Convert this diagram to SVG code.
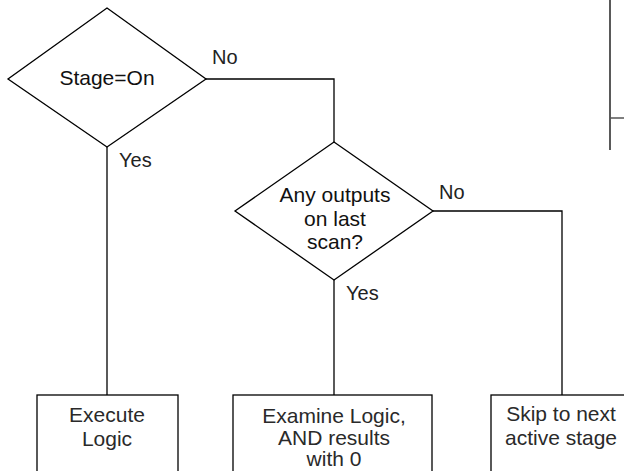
<svg xmlns="http://www.w3.org/2000/svg" width="624" height="471" viewBox="0 0 624 471">
<style>
.shape{fill:#fff;stroke:#000;stroke-width:1.3}
.conn{fill:none;stroke:#000;stroke-width:1.3}
.t{font-family:"Liberation Sans",Arial,sans-serif;font-size:21px;fill:#111;text-anchor:middle}
.bt{fill:#2a2a2a}
.lbl{font-family:"Liberation Sans",Arial,sans-serif;font-size:20px;fill:#222}
</style>
<rect width="624" height="471" fill="#fff"/>
<g id="connectors">
<polyline class="conn" points="206,79 334,79 334,142"/>
<line class="conn" x1="107" y1="147" x2="107" y2="395"/>
<line class="conn" x1="334" y1="280" x2="334" y2="395"/>
<polyline class="conn" points="433,211 562,211 562,395"/>
<line class="conn" x1="610" y1="0" x2="610" y2="150"/>
<line x1="610" y1="118" x2="624" y2="118" stroke="#555" stroke-width="1.5"/>
<text class="lbl" x="212" y="64">No</text>
<text class="lbl" x="119" y="167">Yes</text>
<text class="lbl" x="439" y="199">No</text>
<text class="lbl" x="346" y="300">Yes</text>
</g>
<g id="stage-on">
<polygon class="shape" points="107,8 206,79 107,147 8,79"/>
<text class="t" x="107" y="85">Stage=On</text>
</g>
<g id="any-outputs">
<polygon class="shape" points="334,142 433,211 334,280 235,211"/>
<text class="t" x="335" y="202">Any outputs</text>
<text class="t" x="335" y="226">on last</text>
<text class="t" x="335" y="249">scan?</text>
</g>
<g id="execute-logic">
<rect class="shape" x="37" y="395" width="141" height="90"/>
<text class="t bt" x="107" y="422">Execute</text>
<text class="t bt" x="107" y="446">Logic</text>
</g>
<g id="examine-logic">
<rect class="shape" x="233" y="395" width="199" height="90"/>
<text class="t bt" x="334" y="423">Examine Logic,</text>
<text class="t bt" x="334" y="445">AND results</text>
<text class="t bt" x="334" y="466">with 0</text>
</g>
<g id="skip-stage">
<rect class="shape" x="491" y="395" width="142" height="90"/>
<text class="t bt" x="561" y="421">Skip to next</text>
<text class="t bt" x="561" y="445">active stage</text>
</g>
</svg>
